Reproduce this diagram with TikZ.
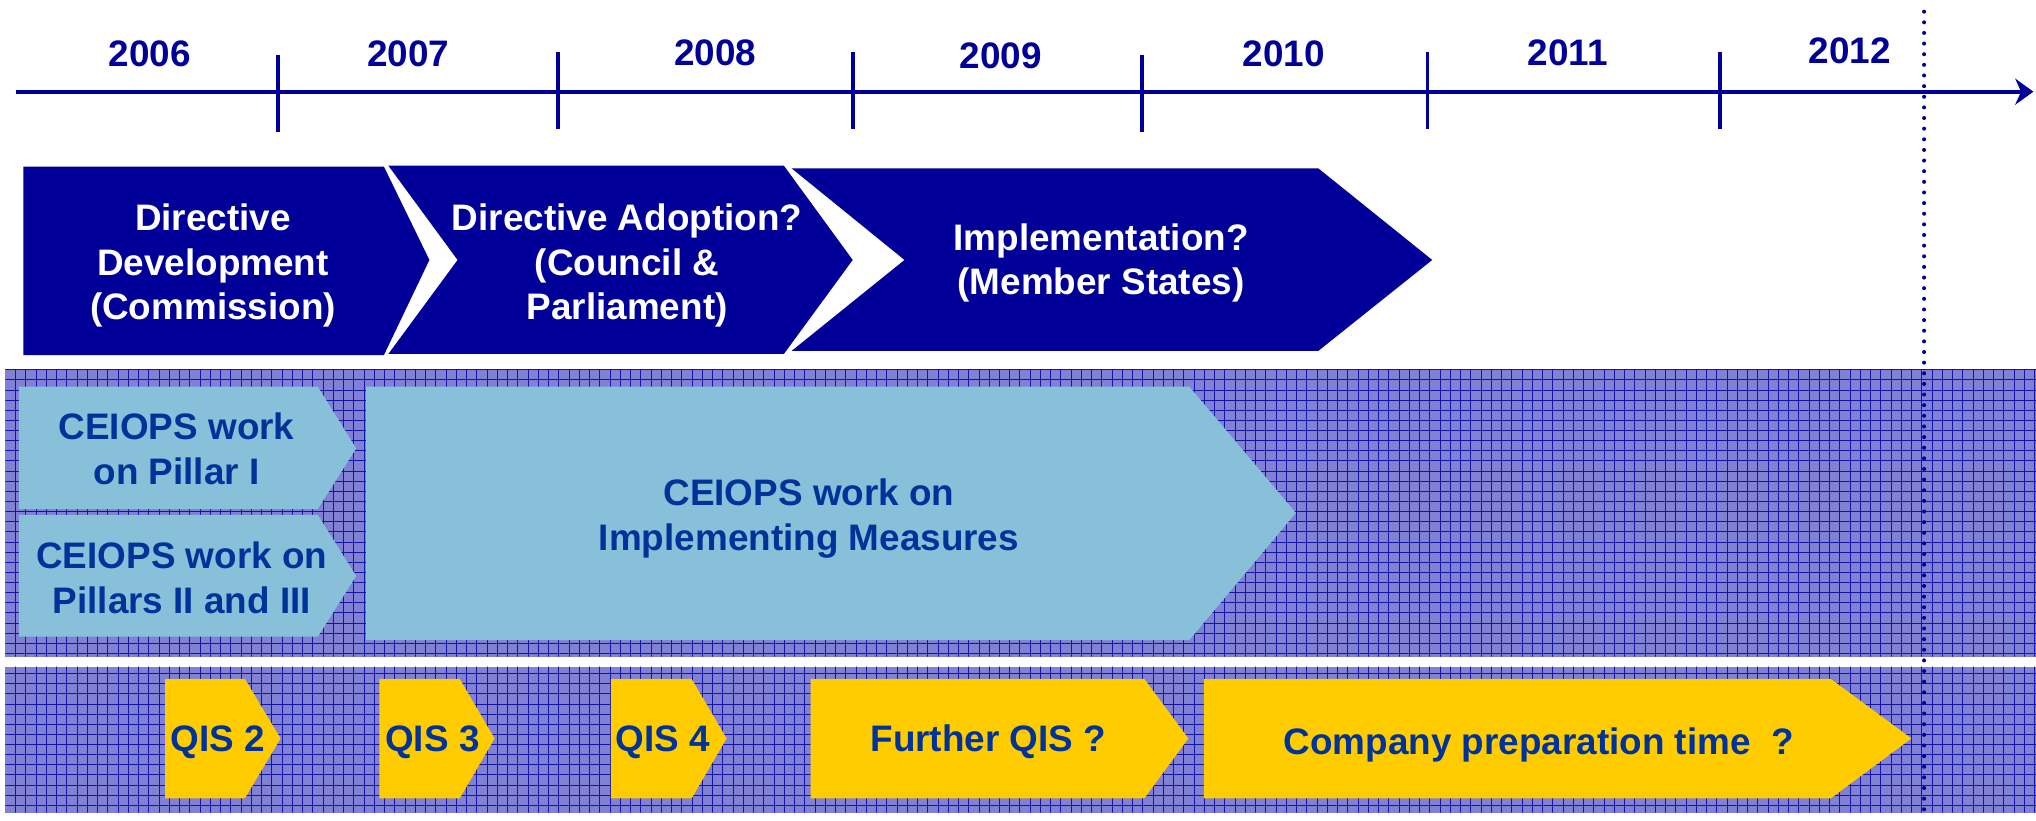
\documentclass[tikz,border=0pt]{standalone}
\usepackage{fontspec}
\setmainfont{Liberation Sans}
\usetikzlibrary{arrows.meta}

\definecolor{navy}{RGB}{0,0,153}
\definecolor{inkblue}{RGB}{0,51,153}
\definecolor{paleblue}{RGB}{135,192,216}
\definecolor{qisyellow}{RGB}{255,204,0}
\definecolor{lavender}{RGB}{128,128,212}
\definecolor{gridblue}{RGB}{20,20,165}

\begin{document}
\begin{tikzpicture}[x=1pt,y=-1pt,
  axisline/.style={navy, line width=2.9pt},
  gridline/.style={gridblue, line width=0.75pt},
  yearlabel/.style={font=\fontsize{28.4}{34}\selectfont\bfseries, text=navy, inner sep=0pt},
  phasetext/.style={font=\fontsize{28.4}{34.3}\selectfont\bfseries, text=white, align=center, inner sep=0pt},
  worktext/.style={font=\fontsize{28.4}{34.8}\selectfont\bfseries, text=inkblue, align=center, inner sep=0pt},
  milestone/.style={navy, line width=3.1pt, line cap=round, dash pattern=on 0pt off 8.19pt}
]
\useasboundingbox (0,0) rectangle (1568,632);

% ---- hatched background bands ----
\fill[lavender] (4.1,284.2) rectangle (1568,505.7);
\fill[lavender] (4.1,513.4) rectangle (1568,625.9);
\begin{scope}
  \clip (4.1,284.2) rectangle (1568,505.7) (4.1,513.4) rectangle (1568,625.9);
  \foreach \k in {0,...,197} \draw[gridline] ({12.1+7.892*\k},284) -- ++(0,344);
  \foreach \k in {-1,...,43} \draw[gridline] (4,{292.6+7.8*\k}) -- (1568,{292.6+7.8*\k});
\end{scope}

% ---- time axis ----
\coordinate (axisstart) at (12,70.6);
\coordinate (axisend) at (1566,70.6);
\draw[axisline, -{Stealth[length=14pt,width=20pt,inset=4.5pt]}] (axisstart) -- (axisend);
\foreach \x/\a/\b in {214/42.4/101.4, 429.8/39.8/99.6, 656.7/39.8/99.6, 879.5/42.4/101.4, 1099.4/39.8/99.6, 1324.4/39.8/99.6}
  \draw[axisline] (\x,\a) -- (\x,\b);

\node[yearlabel] (y2006) at (115.2,41.6) {2006};
\node[yearlabel] (y2007) at (314.6,41.6) {2007};
\node[yearlabel] (y2008) at (551,40.6) {2008};
\node[yearlabel] (y2009) at (770.6,43) {2009};
\node[yearlabel] (y2010) at (988.8,41.6) {2010};
\node[yearlabel] (y2011) at (1207.2,40.8) {2011};
\node[yearlabel] (y2012) at (1424.7,39.1) {2012};

% ---- legislative phases ----
\fill[navy] (18,128.4) -- (295.7,128.4) -- (330.7,200.2) -- (295.7,273.4) -- (18,273.4) -- cycle;
\fill[navy] (299.1,127.6) -- (603.7,127.6) -- (656.7,200.2) -- (603.7,272.6) -- (299.1,272.6) -- (352.4,200.2) -- cycle;
\fill[navy] (609.6,129.6) -- (1015.2,129.6) -- (1103,200.2) -- (1015.2,270.3) -- (609.6,270.3) -- (696.6,200.2) -- cycle;

\node[phasetext] (development) at (164,204.5) {Directive\\Development\\(Commission)};
\node[phasetext] (adoption) at (483,204.5) {Directive Adoption?\\(Council \&\\Parliament)};
\node[phasetext] (implementation) at (848,202.5) {Implementation?\\(Member States)};

% ---- CEIOPS work ----
\fill[paleblue] (14.6,297.8) -- (244.8,297.8) -- (274.3,345.3) -- (244.8,392) -- (14.6,392) -- cycle;
\fill[paleblue] (14.6,396.6) -- (244.8,396.6) -- (274.3,443.6) -- (244.8,490.3) -- (14.6,490.3) -- cycle;
\fill[paleblue] (281.9,297.8) -- (916,297.8) -- (998,395) -- (916,492.9) -- (281.9,492.9) -- cycle;

\node[worktext] (pillarone) at (136,345.8) {CEIOPS work\\on Pillar I};
\node[worktext] (pillarstwothree) at (140,445.3) {CEIOPS work on\\Pillars II and III};
\node[worktext] (measures) at (623,399.5) {CEIOPS work on\\Implementing Measures};

% ---- quantitative impact studies ----
\foreach \l/\r/\p in {127.1/188.6/216.1, 292.2/354.1/380.9, 470.5/532.7/559.6, 624.3/881.3/915.2, 927.2/1410/1472}
  \fill[qisyellow] (\l,522.9) -- (\r,522.9) -- (\p,568.7) -- (\r,614.8) -- (\l,614.8) -- cycle;

\node[worktext] (qis2) at (167.5,571.5) {QIS 2};
\node[worktext] (qis3) at (333,571.5) {QIS 3};
\node[worktext] (qis4) at (510.6,571.5) {QIS 4};
\node[worktext] (furtherqis) at (761.1,571.5) {Further QIS ?};
\node[worktext] (preparation) at (1185,573.5) {Company preparation time\ \ ?};

% ---- deadline marker ----
\coordinate (markertop) at (1481.8,9);
\coordinate (markerbottom) at (1481.8,628);
\draw[milestone] (markertop) -- (markerbottom);
\end{tikzpicture}
\end{document}
